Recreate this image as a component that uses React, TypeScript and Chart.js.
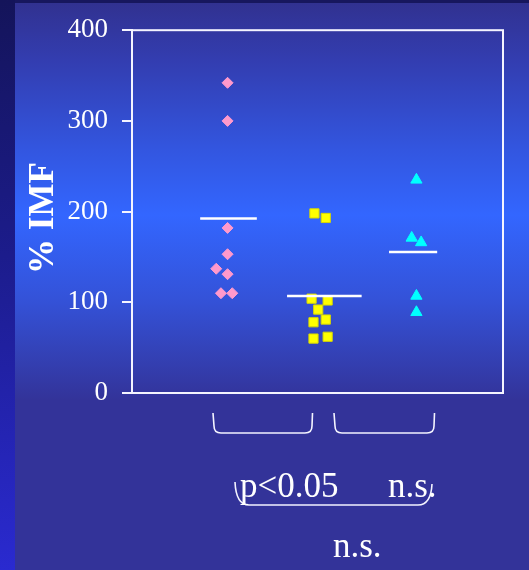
import React, { useEffect, useRef } from "react";
import { Chart, registerables } from "chart.js";

Chart.register(...registerables);

// Individual measurements (% IMF) for the three groups
const groupCenters = [1, 2, 3];
const pinkValues = [342, 300, 182, 153, 137, 131, 110, 110];
const pinkOffsets = [0, 0, 0, 0, -0.12, 0, -0.07, 0.05];
const yellowValues = [198, 193, 104, 102, 92, 78, 81, 60, 62];
const yellowOffsets = [-0.08, 0.04, -0.11, 0.06, -0.04, -0.09, 0.04, -0.09, 0.06];
const cyanValues = [235, 171, 166, 107, 89];
const cyanOffsets = [0, -0.05, 0.05, 0, 0];

// Group means drawn as short horizontal bars: value, start and end on the x scale
const meanValues = [192.5, 107, 155.5];
const meanFrom = [0.71, 1.63, 2.71];
const meanTo = [1.31, 2.42, 3.22];

const yTicks = [0, 100, 200, 300, 400];

const SERIF = "'Liberation Serif', 'Times New Roman', serif";

const pts = (vals: number[], offs: number[], c: number) =>
  vals.map((v, i) => ({ x: c + offs[i], y: v }));

const annotations = {
  id: "annotations",
  afterDraw(chart: any) {
    const { ctx, chartArea } = chart;
    ctx.save();
    // plot frame
    ctx.strokeStyle = "#f4f4ff";
    ctx.lineWidth = 2;
    ctx.strokeRect(chartArea.left, chartArea.top, chartArea.right - chartArea.left, chartArea.bottom - chartArea.top);

    // comparison brackets
    ctx.lineWidth = 1.6;
    const bracket = (x1: number, x2: number, yt: number, yb: number, r: number) => {
      ctx.beginPath();
      ctx.moveTo(x1 - 1, yt);
      ctx.lineTo(x1, yb - r);
      ctx.quadraticCurveTo(x1, yb, x1 + r, yb);
      ctx.lineTo(x2 - r, yb);
      ctx.quadraticCurveTo(x2, yb, x2, yb - r);
      ctx.lineTo(x2 + 0.5, yt);
      ctx.stroke();
    };
    bracket(214, 312, 413, 433, 7);
    bracket(335, 434, 413, 433, 7);

    ctx.beginPath();
    ctx.moveTo(235, 482);
    ctx.quadraticCurveTo(236, 505, 249, 505);
    ctx.lineTo(418, 505);
    ctx.quadraticCurveTo(431, 505, 432, 484);
    ctx.stroke();

    ctx.fillStyle = "#ffffff";
    ctx.font = `35px ${SERIF}`;
    ctx.textAlign = "left";
    ctx.textBaseline = "alphabetic";
    ctx.fillText("p<0.05", 240, 497);
    ctx.fillText("n.s.", 388, 497);
    ctx.fillText("n.s.", 333, 557);

    // y axis title
    ctx.translate(53, 218);
    ctx.rotate(-Math.PI / 2);
    ctx.font = `bold 35px ${SERIF}`;
    ctx.textAlign = "center";
    ctx.fillText("% IMF", 0, 0);
    ctx.restore();
  },
};

export default function App() {
  const ref = useRef<HTMLCanvasElement>(null);

  useEffect(() => {
    if (!ref.current) return;
    const meanSets = meanValues.map((v, i) => ({
      type: "line" as const,
      data: [
        { x: meanFrom[i], y: v },
        { x: meanTo[i], y: v },
      ],
      showLine: true,
      borderColor: "#ffffff",
      borderWidth: 2.5,
      pointRadius: 0,
      order: 0,
    }));
    const chart = new Chart(ref.current, {
      type: "scatter",
      data: {
        datasets: [
          {
            data: pts(pinkValues, pinkOffsets, groupCenters[0]),
            pointStyle: "rectRot",
            pointRadius: 5.5,
            backgroundColor: "#ff99cc",
            borderColor: "#ff99cc",
            borderWidth: 1,
            order: 1,
          },
          {
            data: pts(yellowValues, yellowOffsets, groupCenters[1]),
            pointStyle: "rect",
            pointRadius: 6.5,
            backgroundColor: "#ffff00",
            borderColor: "#d8d800",
            borderWidth: 1,
            order: 1,
          },
          {
            data: pts(cyanValues, cyanOffsets, groupCenters[2]),
            pointStyle: "triangle",
            pointRadius: 6.5,
            backgroundColor: "#00ffff",
            borderColor: "#00ffff",
            borderWidth: 1,
            order: 1,
          },
          ...meanSets,
        ] as any,
      },
      options: {
        animation: false,
        responsive: false,
        devicePixelRatio: 1,
        layout: { padding: { top: 30, right: 26, bottom: 177, left: 0 } },
        plugins: { legend: { display: false }, tooltip: { enabled: false } },
        scales: {
          x: { type: "linear", min: -0.012, max: 3.917, display: false },
          y: {
            type: "linear",
            min: 0,
            max: 400,
            afterFit: (s: any) => {
              s.width = 132;
            },
            afterBuildTicks: (s: any) => {
              s.ticks = yTicks.map((v) => ({ value: v }));
            },
            ticks: {
              color: "#ffffff",
              font: { family: SERIF, size: 27 },
              padding: 14,
            },
            grid: {
              drawOnChartArea: false,
              drawTicks: true,
              tickLength: 10,
              color: "#f4f4ff",
              lineWidth: 2,
            },
            border: { display: true, color: "#f4f4ff", width: 2 },
          },
        },
      },
      plugins: [annotations],
    });
    return () => chart.destroy();
  }, []);

  return (
    <div
      style={{
        position: "fixed",
        left: 0,
        top: 0,
        width: 529,
        height: 570,
        overflow: "hidden",
        background:
          "linear-gradient(180deg, #31318f 0px, #333db0 60px, #3356e0 150px, #3366ff 215px, #3452d8 300px, #333399 400px, #333399 570px)",
      }}
    >
      <div
        style={{
          position: "absolute",
          left: 0,
          top: 0,
          width: 15,
          height: 570,
          background: "linear-gradient(180deg, #14145a 0%, #1c1c8c 45%, #2a2ad0 100%)",
        }}
      />
      <div
        style={{
          position: "absolute",
          left: 15,
          top: 0,
          width: 514,
          height: 3,
          background: "#17175e",
        }}
      />
      <canvas ref={ref} width={529} height={570} style={{ position: "absolute", left: 0, top: 0 }} />
    </div>
  );
}
